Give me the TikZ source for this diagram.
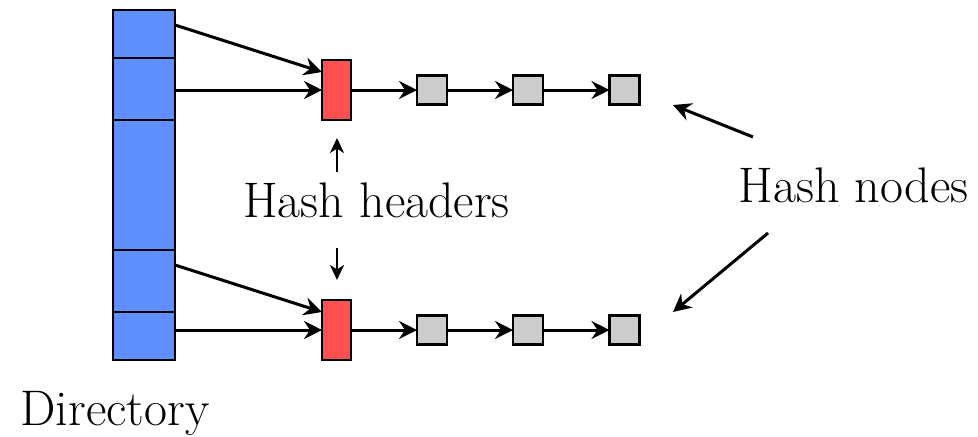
\documentclass[tikz,border=0pt]{standalone}
\usetikzlibrary{arrows.meta}
\definecolor{dirblue}{RGB}{95,143,255}
\definecolor{headred}{RGB}{255,80,80}
\definecolor{nodegray}{RGB}{204,204,204}
\begin{document}
\begin{tikzpicture}[x=0.5pt,y=-0.5pt,
  box/.style={draw=black,line width=1.4pt,inner sep=0pt,outer sep=0pt},
  header/.style={box,fill=headred,minimum width=14.5pt,minimum height=30pt},
  hnode/.style={box,fill=nodegray,minimum width=15pt,minimum height=14.5pt},
  ptr/.style={line width=1.5pt,-{Stealth[length=9pt,width=9pt,inset=3pt]}},
  thinptr/.style={line width=1.4pt,-{Stealth[length=7.5pt,width=7pt,inset=2.2pt]}},
  label/.style={font=\rmfamily\fontsize{25}{30}\selectfont,anchor=base,inner sep=0pt}]
\useasboundingbox (0,0) rectangle (978,436);

% directory column with its five slots
\node[box,fill=dirblue,minimum width=31pt,minimum height=175pt] (dir) at (144,185) {};
\foreach \yy in {58,120,250,312}
  \draw[line width=1.4pt] (dir.west |- 0,\yy) -- (dir.east |- 0,\yy);
\coordinate (d1) at (dir.east |- 0,25);
\coordinate (d2) at (dir.east |- 0,90);
\coordinate (d3) at (dir.east |- 0,265);
\coordinate (d4) at (dir.east |- 0,330);

% hash headers
\node[header] (h1) at (336.5,90) {};
\node[header] (h2) at (336.5,330) {};

% hash node chains
\node[hnode] (a1) at (432,90) {};
\node[hnode] (a2) at (528,90) {};
\node[hnode] (a3) at (624.5,90) {};
\node[hnode] (b1) at (432,330) {};
\node[hnode] (b2) at (528,330) {};
\node[hnode] (b3) at (624.5,330) {};

% directory pointers
\draw[ptr] (d1) -- (h1.west |- 0,72);
\draw[ptr] (d2) -- (h1.west);
\draw[ptr] (d3) -- (h2.west |- 0,312);
\draw[ptr] (d4) -- (h2.west);

% chain links
\draw[ptr] (h1.east) -- (a1.west);
\draw[ptr] (a1.east) -- (a2.west);
\draw[ptr] (a2.east) -- (a3.west);
\draw[ptr] (h2.east) -- (b1.west);
\draw[ptr] (b1.east) -- (b2.west);
\draw[ptr] (b2.east) -- (b3.west);

% labels
\node[label] (lh) at (376.5,217) {Hash headers};
\node[label] (ln) at (853.5,202) {Hash nodes};
\node[label] (ld) at (115,425) {Directory};

% label pointers
\coordinate (uh) at (337,172);
\coordinate (dh) at (337,248);
\draw[thinptr] (uh) -- (337,138);
\draw[thinptr] (dh) -- (337,280);
\coordinate (n1) at (753,137);
\coordinate (n2) at (768,233);
\draw[ptr] (n1) -- (673,105);
\draw[ptr] (n2) -- (673,312);
\end{tikzpicture}
\end{document}
